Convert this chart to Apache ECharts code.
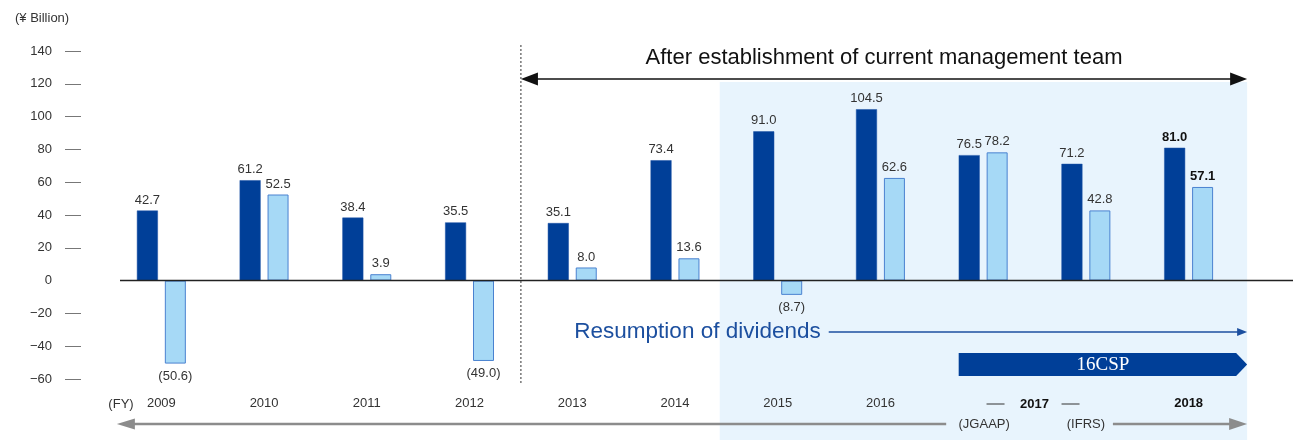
<!DOCTYPE html>
<html><head><meta charset="utf-8">
<script src="https://cdn.jsdelivr.net/npm/echarts@6/dist/echarts.min.js"></script>
<style>html,body{margin:0;padding:0;background:#fff}#c{width:1293px;height:440px}</style>
</head><body><div id="c"></div>
<script>
const categories = ['2009','2010','2011','2012','2013','2014','2015','2016','2017J','2017I','2018'];
const categoryLabels = ['2009','2010','2011','2012','2013','2014','2015','2016','','','2018'];
const darkValues  = [42.7, 61.2, 38.4, 35.5, 35.1, 73.4, 91.0, 104.5, 76.5, 71.2, 81.0];
const lightValues = [-50.6, 52.5, 3.9, -49.0, 8.0, 13.6, -8.7, 62.6, 78.2, 42.8, 57.1];
const yTicks = [-60, -40, -20, 20, 40, 60, 80, 100, 120, 140];
const boldIndex = 10;

const FONT = 'Liberation Sans, Arial, sans-serif';
const fmt = v => v < 0 ? '(' + Math.abs(v).toFixed(1) + ')' : v.toFixed(1);
function items(arr) {
  return arr.map((v, i) => {
    const lab = { position: v < 0 ? 'bottom' : 'top', distance: v < 0 ? 6 : 4 };
    if (i === boldIndex) { lab.fontWeight = 'bold'; lab.color = '#111'; }
    return { value: v, label: lab };
  });
}
const chart = echarts.init(document.getElementById('c'), null, { renderer: 'canvas' });
chart.setOption({
  animation: false,
  textStyle: { fontFamily: FONT },
  grid: { left: 110, right: 53, top: 51, bottom: 61 },
  xAxis: {
    type: 'category', data: categories,
    axisLine: { show: false, onZero: false }, axisTick: { show: false },
    axisLabel: {
      margin: 18, fontSize: 13, color: '#333', fontFamily: FONT, interval: 0,
      formatter: (v, i) => categoryLabels[i] === '2018' ? '{b|2018}' : categoryLabels[i],
      rich: { b: { fontWeight: 'bold', fontSize: 13, color: '#111', fontFamily: FONT } }
    }
  },
  yAxis: {
    type: 'value', min: -60, max: 140, interval: 20, offset: 29,
    splitLine: { show: false }, axisLine: { show: false },
    axisTick: { show: true, length: 16, customValues: yTicks, lineStyle: { color: '#777', width: 1 } },
    axisLabel: { margin: 29, fontSize: 13, color: '#333', fontFamily: FONT,
      formatter: v => String(v).replace('-', '\u2212') }
  },
  series: [
    { type: 'bar', data: items(darkValues), barWidth: 21, barGap: '33%', z: 3,
      itemStyle: { color: '#003f98', borderColor: '#1d52a6', borderWidth: 0.5 },
      label: { show: true, formatter: p => fmt(p.value), fontSize: 13, color: '#333', fontFamily: FONT } },
    { type: 'bar', data: items(lightValues), barWidth: 21, z: 3,
      itemStyle: { color: '#a6d9f6', borderColor: '#4a82d0', borderWidth: 1 },
      label: { show: true, formatter: p => fmt(p.value), fontSize: 13, color: '#333', fontFamily: FONT } }
  ]
});

const cx = i => chart.convertToPixel({ xAxisIndex: 0 }, i);
const py = v => chart.convertToPixel({ yAxisIndex: 0 }, v);
const bgL = cx(6) - 58, bgR = cx(10) + 58.5;
const divX = (cx(3) + cx(4)) / 2;
const y0 = py(0);
const g = [];
g.push({ type: 'rect', z: 0, shape: { x: bgL, y: 82, width: bgR - bgL, height: 440 - 82 }, style: { fill: '#e8f4fd' } });
g.push({ type: 'line', z: 5, shape: { x1: divX, y1: 45, x2: divX, y2: 383 }, style: { stroke: '#333', lineWidth: 1, lineDash: [2, 2] } });
// top double arrow
const ty = 79;
g.push({ type: 'line', z: 5, shape: { x1: divX + 10, y1: ty, x2: bgR - 10, y2: ty }, style: { stroke: '#111', lineWidth: 1.5 } });
g.push({ type: 'polygon', z: 5, shape: { points: [[divX, ty], [divX + 17, ty - 6.5], [divX + 17, ty + 6.5]] }, style: { fill: '#111' } });
g.push({ type: 'polygon', z: 5, shape: { points: [[bgR, ty], [bgR - 17, ty - 6.5], [bgR - 17, ty + 6.5]] }, style: { fill: '#111' } });
g.push({ type: 'text', z: 6, x: (divX + bgR) / 2, y: 58, style: { text: 'After establishment of current management team', fill: '#111', font: '22px ' + FONT, align: 'center', verticalAlign: 'middle' } });
// zero baseline
g.push({ type: 'line', z: 6, shape: { x1: 120, y1: y0, x2: 1293, y2: y0 }, style: { stroke: '#222', lineWidth: 1.5 } });
// resumption of dividends
const ry = 332;
const rEnd = cx(6) + 43;
g.push({ type: 'text', z: 6, x: rEnd, y: ry, style: { text: 'Resumption of dividends', fill: '#1c4f9f', font: '22.5px ' + FONT, align: 'right', verticalAlign: 'middle' } });
g.push({ type: 'line', z: 6, shape: { x1: rEnd + 8, y1: ry, x2: bgR - 8, y2: ry }, style: { stroke: '#1c4f9f', lineWidth: 1.3 } });
g.push({ type: 'polygon', z: 6, shape: { points: [[bgR, ry], [bgR - 10, ry - 4], [bgR - 10, ry + 4]] }, style: { fill: '#1c4f9f' } });
// 16CSP banner
const cL = cx(8) - 24.5;
g.push({ type: 'polygon', z: 6, shape: { points: [[cL, 353], [bgR - 11, 353], [bgR, 364.5], [bgR - 11, 376], [cL, 376]] }, style: { fill: '#003f98' } });
g.push({ type: 'text', z: 7, x: (cL + bgR) / 2, y: 365, style: { text: '16CSP', fill: '#fff', font: '19px Liberation Serif, serif', align: 'center', verticalAlign: 'middle' } });
// 2017 label group
const mid17 = (cx(8) + cx(9)) / 2;
const ly = 404;
g.push({ type: 'text', z: 7, x: mid17, y: ly, style: { text: '2017', fill: '#111', font: 'bold 13px ' + FONT, align: 'center', verticalAlign: 'middle' } });
g.push({ type: 'line', z: 7, shape: { x1: mid17 - 48, y1: ly, x2: mid17 - 30, y2: ly }, style: { stroke: '#333', lineWidth: 1 } });
g.push({ type: 'line', z: 7, shape: { x1: mid17 + 27, y1: ly, x2: mid17 + 45, y2: ly }, style: { stroke: '#333', lineWidth: 1 } });
g.push({ type: 'text', z: 7, x: cx(0) - 53, y: ly, style: { text: '(FY)', fill: '#333', font: '13px ' + FONT, align: 'left', verticalAlign: 'middle' } });
g.push({ type: 'text', z: 7, x: 15, y: 18, style: { text: '(\u00a5 Billion)', fill: '#333', font: '13px ' + FONT, align: 'left', verticalAlign: 'middle' } });
// bottom gray arrows
const by = 424;
g.push({ type: 'text', z: 7, x: cx(8) + 1, y: by, style: { text: '(JGAAP)', fill: '#333', font: '13px ' + FONT, align: 'center', verticalAlign: 'middle' } });
g.push({ type: 'text', z: 7, x: cx(9), y: by, style: { text: '(IFRS)', fill: '#333', font: '13px ' + FONT, align: 'center', verticalAlign: 'middle' } });
const gl = cx(0) - 44.5;
g.push({ type: 'line', z: 6, shape: { x1: gl + 14, y1: by, x2: cx(8) - 37, y2: by }, style: { stroke: '#8c8c8c', lineWidth: 2.5 } });
g.push({ type: 'polygon', z: 6, shape: { points: [[gl, by], [gl + 18, by - 5.5], [gl + 18, by + 5.5]] }, style: { fill: '#8c8c8c' } });
g.push({ type: 'line', z: 6, shape: { x1: cx(9) + 27, y1: by, x2: bgR - 14, y2: by }, style: { stroke: '#8c8c8c', lineWidth: 2.5 } });
g.push({ type: 'polygon', z: 6, shape: { points: [[bgR, by], [bgR - 18, by - 6], [bgR - 18, by + 6]] }, style: { fill: '#8c8c8c' } });
chart.setOption({ graphic: g });
</script>
</body></html>
